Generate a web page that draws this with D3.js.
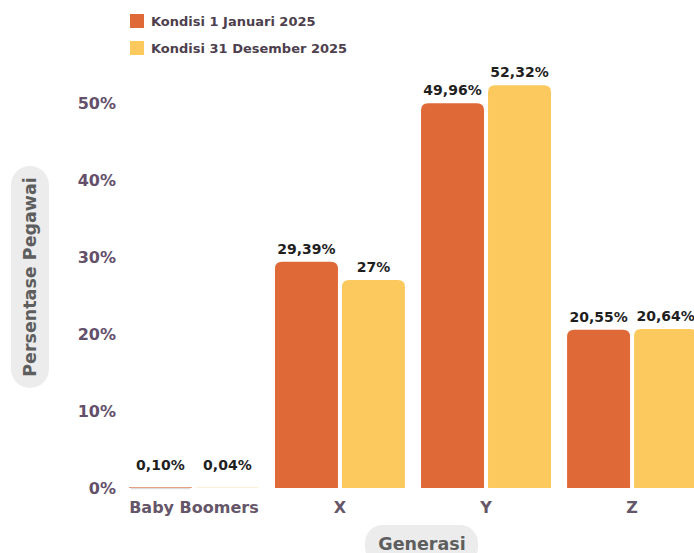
<!DOCTYPE html>
<html>
<head>
<script src="https://cdn.jsdelivr.net/npm/d3@7"></script>
<style>
body { margin: 0; background: #fff; }
svg text { font-family: "DejaVu Sans", sans-serif; }
</style>
</head>
<body>
<svg id="chart" width="694" height="553"></svg>
<script>
// data
const generasi = ["Baby Boomers", "X", "Y", "Z"];
const seriesNames = ["Kondisi 1 Januari 2025", "Kondisi 31 Desember 2025"];
const awal = [0.10, 29.39, 49.96, 20.55];
const akhir = [0.04, 27, 52.32, 20.64];
const awalLabel = ["0,10%", "29,39%", "49,96%", "20,55%"];
const akhirLabel = ["0,04%", "27%", "52,32%", "20,64%"];
const yTicks = [0, 10, 20, 30, 40, 50];
const warna = ["#E06A37", "#FCC95E"];

const svg = d3.select("#chart");

// scales
const x = d3.scaleBand().domain(generasi).range([126, 700]).paddingInner(0.11).paddingOuter(0.02);
const xs = d3.scaleBand().domain([0, 1]).range([0, x.bandwidth()]).paddingInner(0.06);
const y = d3.scaleLinear().domain([0, 50]).range([488, 103]);

// rounded-top bar path
function barPath(x0, w, y0, y1, r) {
  const h = y1 - y0;
  r = Math.min(r, h, w / 2);
  return `M${x0},${y1}V${y0 + r}Q${x0},${y0} ${x0 + r},${y0}H${x0 + w - r}Q${x0 + w},${y0} ${x0 + w},${y0 + r}V${y1}Z`;
}

const rows = generasi.map((g, i) => ({ g, vals: [awal[i], akhir[i]], labs: [awalLabel[i], akhirLabel[i]] }));

const grp = svg.selectAll("g.grp").data(rows).enter().append("g")
  .attr("class", "grp")
  .attr("transform", d => `translate(${x(d.g)},0)`);

grp.selectAll("path").data(d => d.vals.map((v, k) => ({ v, k }))).enter().append("path")
  .attr("d", d => barPath(xs(d.k), xs.bandwidth(), y(d.v), y(0), 7))
  .attr("fill", d => warna[d.k]);

// tiny bars get a faint baseline stroke like the original
grp.filter(d => d.vals[0] < 1).append("line")
  .attr("x1", xs(0) + 2).attr("x2", xs(0) + xs.bandwidth() - 2)
  .attr("y1", y(0) + 0.5).attr("y2", y(0) + 0.5)
  .attr("stroke", "#dcdcdc").attr("stroke-width", 1.5);

grp.selectAll("text.val").data(d => d.vals.map((v, k) => ({ v, k, lab: d.labs[k] }))).enter().append("text")
  .attr("class", "val")
  .attr("x", d => xs(d.k) + xs.bandwidth() / 2)
  .attr("y", d => Math.min(y(d.v), y(0) - 10) - 8)
  .attr("text-anchor", "middle")
  .attr("font-size", 14)
  .attr("font-weight", 700)
  .attr("fill", "#1f1f1f")
  .text(d => d.lab);

// y axis (labels only)
const yAxis = d3.axisLeft(y).tickValues(yTicks).tickFormat(d => d + "%").tickSize(0).tickPadding(0);
svg.append("g").attr("transform", "translate(116,0)").call(yAxis)
  .call(g => g.select(".domain").remove())
  .selectAll("text")
  .attr("font-size", 16)
  .attr("font-weight", 700)
  .attr("fill", "#64506a")
  .attr("font-family", "DejaVu Sans, sans-serif");

// x axis (labels only)
const xAxis = d3.axisBottom(x).tickSize(0).tickPadding(0);
svg.append("g").attr("transform", "translate(0,513)").call(xAxis)
  .call(g => g.select(".domain").remove())
  .selectAll("text")
  .attr("y", 0).attr("dy", 0)
  .attr("font-size", 16)
  .attr("font-weight", 700)
  .attr("fill", "#655669")
  .attr("font-family", "DejaVu Sans, sans-serif");

// axis titles with pill background
svg.append("rect").attr("x", 11).attr("y", 166).attr("width", 38).attr("height", 222).attr("rx", 19).attr("fill", "#ececec");
svg.append("text")
  .attr("transform", "translate(36,277) rotate(-90)")
  .attr("text-anchor", "middle")
  .attr("font-size", 17.5)
  .attr("fill", "#5e5e5e")
  .attr("font-weight", 700)
  .text("Persentase Pegawai");

svg.append("rect").attr("x", 365).attr("y", 525).attr("width", 113).attr("height", 40).attr("rx", 18).attr("fill", "#ececec");
svg.append("text")
  .attr("x", 422).attr("y", 550)
  .attr("text-anchor", "middle")
  .attr("font-size", 17.5)
  .attr("fill", "#5e5e5e")
  .attr("font-weight", 700)
  .text("Generasi");

// legend
const leg = svg.selectAll("g.leg").data(seriesNames).enter().append("g")
  .attr("class", "leg")
  .attr("transform", (d, i) => `translate(130,${14 + i * 27})`);
leg.append("rect").attr("width", 14).attr("height", 14).attr("fill", (d, i) => warna[i]);
leg.append("text").attr("x", 21).attr("y", 12)
  .attr("font-size", 13).attr("font-weight", 700).attr("fill", "#4e3f4e")
  .text(d => d);
</script>
</body>
</html>
